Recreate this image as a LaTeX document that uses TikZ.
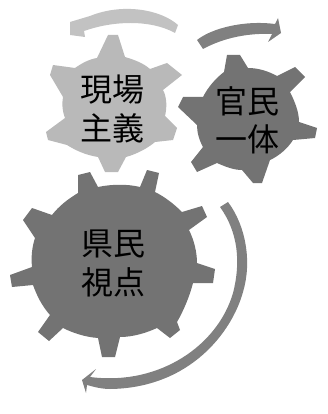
\documentclass[tikz,border=0pt]{standalone}
\usepackage{fontspec}
\newfontfamily\cjk{Noto Sans CJK JP}
\definecolor{lightg}{HTML}{B9B9B9}
\definecolor{darkg}{HTML}{737373}
\definecolor{midg}{HTML}{808080}
\definecolor{pale}{HTML}{C2C2C2}
\tikzset{
  gearlight/.style={fill=lightg,draw=none,line join=round},
  geardark/.style={fill=darkg,draw=none,line join=round},
  arrowfill/.style={fill=midg,draw=none,line join=round},
  arrowpale/.style={fill=pale,draw=none,line join=round},
  gtext/.style={font=\cjk\fontsize{32}{36}\selectfont,text=black,inner sep=0pt,align=center}
}
\begin{document}
\begin{tikzpicture}[x=1pt,y=-1pt]
\useasboundingbox (0,0) rectangle (327,414);
% gear 1
\path[gearlight] (108,35) -- (118,35) -- (125,57) .. controls (135,60) and (143,63) .. (150,69)
  -- (167,63) -- (182,75) -- (163,90) .. controls (167,97) and (167,108) .. (165,116)
  -- (177,128) -- (173,140) -- (155,142) .. controls (148,148) and (137,154) .. (126,157)
  -- (118,172) -- (105,172) -- (98,157) .. controls (85,155) and (75,150) .. (67,145)
  -- (48,140) -- (46,132) -- (65,118) .. controls (62,110) and (62,103) .. (63,97)
  -- (50,75) -- (53,65) -- (75,68) .. controls (82,63) and (90,59) .. (97,58) -- cycle;
% gear 2
\path[geardark] (227,55) -- (240,55) -- (248,68) .. controls (258,68) and (268,71) .. (277,76)
  -- (295,67) -- (305,77) -- (290,92) .. controls (295,102) and (299,112) .. (299,122)
  -- (317,128) -- (315,138) -- (293,140) .. controls (288,148) and (279,156) .. (270,160)
  -- (262,183) -- (253,183) -- (242,170) .. controls (234,170) and (226,167) .. (217,163)
  -- (197,172) -- (191,162) -- (203,147) .. controls (199,140) and (197,132) .. (197,125)
  -- (178,107) -- (183,97) -- (203,97) .. controls (208,87) and (216,78) .. (224,72) -- cycle;
% gear 3
\path[geardark] (78,175) -- (90,172) -- (98,187) .. controls (112,184) and (128,184) .. (140,187)
  -- (147,170) -- (159,173) -- (155,192) .. controls (165,197) and (174,204) .. (182,212)
  -- (202,206) -- (207,217) -- (189,230) .. controls (194,240) and (197,252) .. (197,263)
  -- (215,269) -- (213,283) -- (193,283) .. controls (190,295) and (184,310) .. (177,322)
  -- (180,330) -- (170,338) -- (157,328) .. controls (146,333) and (133,337) .. (120,337)
  -- (115,357) -- (102,357) -- (98,338) .. controls (85,337) and (73,333) .. (63,328)
  -- (49,341) -- (38,332) -- (50,315) .. controls (42,306) and (37,296) .. (33,285)
  -- (12,287) -- (10,275) -- (32,267) .. controls (31,257) and (32,247) .. (35,238)
  -- (23,220) -- (32,208) -- (52,215) .. controls (59,206) and (68,199) .. (78,193) -- cycle;
% arrow 1 (pale, top)
\path[arrowpale] (178,25) .. controls (160,9) and (122,3) .. (90,16)
  -- (70,22) -- (70,35) -- (85,37) -- (84,31)
  .. controls (112,21) and (150,19) .. (175,33) -- cycle;
% arrow 2
\path[arrowfill] (197,40) .. controls (212,28) and (245,20) .. (275,24)
  -- (278,18) -- (281,33) -- (268,42) -- (272,34)
  .. controls (250,33) and (225,37) .. (203,49) -- cycle;
% arrow 3
\path[arrowfill] (220,207) -- (228,202) .. controls (246,226) and (252,262) .. (243,292)
  .. controls (232,332) and (190,388) .. (110,389)
  .. controls (102,389) and (94,387) .. (87,385) -- (86,393) -- (82,380)
  -- (96,369) -- (90,377)
  .. controls (160,386) and (218,345) .. (233,293)
  .. controls (241,262) and (238,232) .. (220,207) -- cycle;
% texts
\node[gtext] (t1) at (112,90) {現場};
\node[gtext] (t2) at (112,128) {主義};
\node[gtext] (t3) at (247,101) {官民};
\node[gtext] (t4) at (247,139) {一体};
\node[gtext] (t5) at (113,244) {県民};
\node[gtext] (t6) at (113,282) {視点};
\end{tikzpicture}
\end{document}
